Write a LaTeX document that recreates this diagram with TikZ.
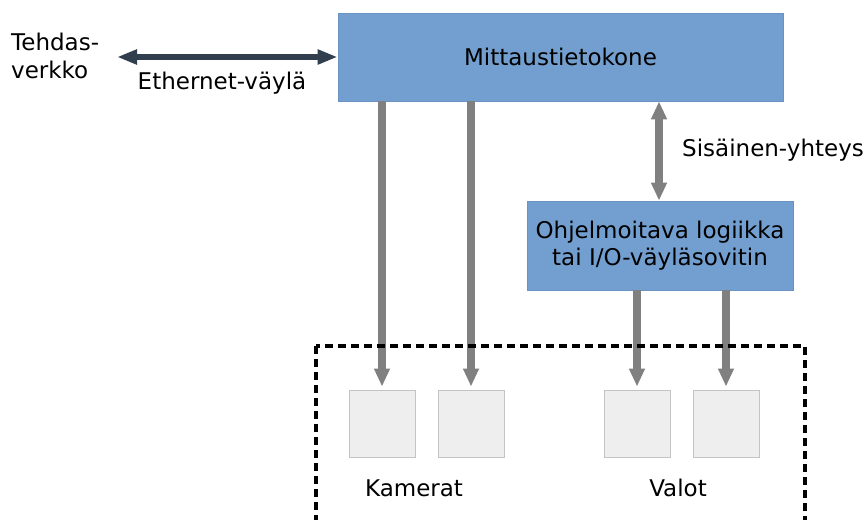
\documentclass[tikz,border=0pt]{standalone}
\usepackage{fontspec}
\setmainfont{DejaVu Sans}
\usetikzlibrary{arrows.meta}
\definecolor{boxblue}{HTML}{729FCF}
\definecolor{boxedge}{HTML}{6A93C2}
\definecolor{ethcol}{HTML}{313E4E}
\definecolor{arrgray}{HTML}{808080}
\definecolor{sqfill}{HTML}{EEEEEE}
\definecolor{sqedge}{HTML}{C4C4C4}
\tikzset{
  txt/.style={font=\fontsize{23}{27.5}\selectfont, inner sep=0pt},
  bluebox/.style={draw=boxedge, fill=boxblue, line width=0.8pt, align=center, inner sep=0pt, font=\fontsize{23}{27.5}\selectfont},
  device/.style={draw=sqedge, fill=sqfill, line width=1pt, minimum width=66pt, minimum height=67pt, inner sep=0pt},
  grayarrow/.style={draw=arrgray, line width=8pt, -{Triangle[length=18pt,width=15pt]}},
  grayboth/.style={draw=arrgray, line width=8pt, {Triangle[length=18pt,width=15pt]}-{Triangle[length=18pt,width=15pt]}},
  etharrow/.style={draw=ethcol, line width=6pt, {Triangle[length=20pt,width=14pt]}-{Triangle[length=20pt,width=14pt]}},
  dashbox/.style={draw=black, line width=3.5pt, dash pattern=on 8pt off 5pt}
}
\begin{document}
\begin{tikzpicture}[x=1pt,y=-1pt]
\useasboundingbox (0,0) rectangle (866,519);
\clip (0,0) rectangle (866,519);
\fill[white] (0,0) rectangle (866,519);

\node[bluebox, minimum width=445pt, minimum height=88pt] (main) at (560.5,57) {Mittaustietokone};
\node[bluebox, minimum width=266pt, minimum height=89pt] (plc) at (660,245.5) {Ohjelmoitava logiikka\\tai I/O-väyläsovitin};

\node[device] (c1) at (382,423.5) {};
\node[device] (c2) at (471,423.5) {};
\node[device] (v1) at (637,423.5) {};
\node[device] (v2) at (726,423.5) {};

\node[txt, anchor=west, align=left] (tehdas) at (11,56) {Tehdas-\\verkko};
\coordinate (ethend) at (117,57);
\node[txt] (ethlbl) at (222,83) {Ethernet-väylä};
\node[txt, anchor=west] (sislbl) at (682,150) {Sisäinen-yhteys};
\node[txt] (kam) at (414,488) {Kamerat};
\node[txt] (valot) at (678,488) {Valot};

\draw[etharrow] (ethend) -- (main.west);

\draw[grayarrow, shorten >=3pt] (c1.north |- main.south) -- (c1.north);
\draw[grayarrow, shorten >=3pt] (c2.north |- main.south) -- (c2.north);
\draw[grayarrow, shorten >=3pt] (v1.north |- plc.south) -- (v1.north);
\draw[grayarrow, shorten >=3pt] (v2.north |- plc.south) -- (v2.north);
\draw[grayboth] ([xshift=-1pt]plc.north |- main.south) -- ([xshift=-1pt]plc.north);

\coordinate (dtl) at (316,346);
\coordinate (dbr) at (805,522);
\draw[dashbox] (dtl) rectangle (dbr);
\end{tikzpicture}
\end{document}
